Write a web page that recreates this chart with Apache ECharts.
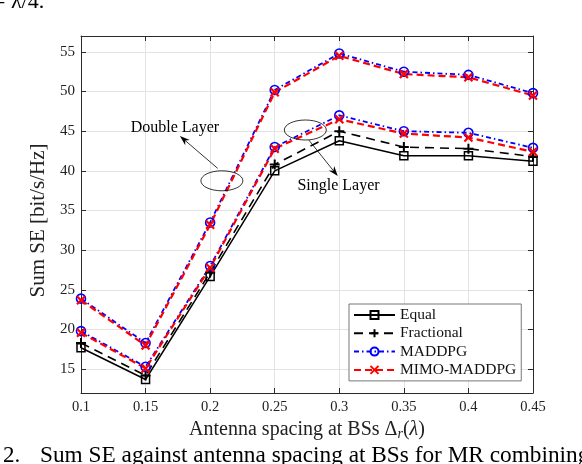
<!DOCTYPE html>
<html><head><meta charset="utf-8">
<script src="https://cdn.jsdelivr.net/npm/echarts@6/dist/echarts.min.js"></script>
<style>html,body{margin:0;padding:0;background:#fff}#c{width:582px;height:464px}</style>
</head><body><div id="c"></div>
<script>
// ---- data ----
const spacing = [0.1, 0.15, 0.2, 0.25, 0.3, 0.35, 0.4, 0.45];
const equalSingle      = [17.7, 13.7, 26.7, 40.0, 43.8, 41.9, 41.9, 41.2];
const fractionalSingle = [18.3, 14.2, 27.2, 40.8, 45.0, 43.0, 42.8, 41.8];
const maddpgSingle     = [19.8, 15.3, 28.0, 43.0, 47.0, 45.0, 44.8, 42.9];
const mimoSingle       = [19.6, 15.1, 27.8, 42.8, 46.5, 44.7, 44.2, 42.4];
const maddpgDouble     = [23.9, 18.3, 33.5, 50.2, 54.8, 52.5, 52.1, 49.8];
const mimoDouble       = [23.7, 18.0, 33.2, 49.9, 54.5, 52.2, 51.8, 49.5];
const legendNames = ['Equal', 'Fractional', 'MADDPG', 'MIMO-MADDPG'];
const xLabel = 'Antenna spacing at BSs';
const yLabel = 'Sum SE [bit/s/Hz]';
// annotation anchors in data coordinates
const doubleText = [0.1727, 45.44], doubleFrom = [0.2058, 40.32], doubleTip = [0.1766, 44.39], doubleEll = [0.2091, 38.75];
const singleText = [0.2994, 38.08], singleFrom = [0.2764, 43.89], singleTip = [0.2988, 39.34], singleEll = [0.2737, 45.15];

const FONT = 'Liberation Serif';
const pairs = arr => spacing.map((x, i) => [x, arr[i]]);
const plusPath = 'path://M5,0L5,10M0,5L10,5';
const crossPath = 'path://M0,0L10,10M10,0L0,10';

function mk(name, data, color, type, width, symbol, size, bw) {
  return {
    name, type: 'line', data: pairs(data), xAxisIndex: 0, yAxisIndex: 0,
    symbol, symbolSize: size, showSymbol: true,
    lineStyle: { color, width, type },
    itemStyle: { color: (symbol === 'rect' || symbol === 'circle') ? 'rgba(255,255,255,0)' : color, borderColor: color, borderWidth: bw },
    emphasis: { disabled: true }
  };
}

const series = [
  mk('Equal', equalSingle, '#000', 'solid', 1.5, 'rect', 8, 1.5),
  mk('Fractional', fractionalSingle, '#000', [9, 6], 1.6, plusPath, 10, 2),
  mk('MADDPG', maddpgSingle, '#0000ff', [5, 3, 1.5, 3], 1.8, 'circle', 9, 1.6),
  mk('MIMO-MADDPG', mimoSingle, '#ff0000', [7, 4], 2.2, crossPath, 8, 2.2),
  mk('MADDPG', maddpgDouble, '#0000ff', [5, 3, 1.5, 3], 1.8, 'circle', 9, 1.6),
  mk('MIMO-MADDPG', mimoDouble, '#ff0000', [7, 4], 2.2, crossPath, 8, 2.2)
];

const axisLineStyle = { lineStyle: { color: '#2a2a2a', width: 1 } };
const tickIn = { show: true, inside: true, length: 5, lineStyle: { color: '#2a2a2a' } };
const gridLine = { show: true, lineStyle: { color: '#e3e3e3', width: 1 } };

const chart = echarts.init(document.getElementById('c'), null, { renderer: 'canvas' });
chart.setOption({
  animation: false,
  backgroundColor: '#fff',
  textStyle: { fontFamily: FONT },
  grid: { left: 81, right: 49, top: 36, bottom: 71, containLabel: false },
  xAxis: [{
    type: 'value', min: 0.1, max: 0.45, interval: 0.05, position: 'bottom',
    axisLine: axisLineStyle, axisTick: tickIn, splitLine: gridLine,
    axisLabel: { fontFamily: FONT, fontSize: 14.5, color: '#222', margin: 7, formatter: v => String(+v.toFixed(2)) },
    name: xLabel + ' Δ{s|r}({i|λ})', nameLocation: 'middle', nameGap: 26,
    nameTextStyle: { fontFamily: FONT, fontSize: 20, color: '#222',
      rich: { s: { fontFamily: FONT, fontStyle: 'italic', fontSize: 14, color: '#222', verticalAlign: 'bottom', padding: [8, 0, 0, 0] },
              i: { fontFamily: FONT, fontStyle: 'italic', fontSize: 20, color: '#222' } } }
  }, {
    type: 'value', min: 0.1, max: 0.45, interval: 0.05, position: 'top',
    axisLine: axisLineStyle, axisTick: tickIn, splitLine: { show: false }, axisLabel: { show: false }
  }],
  yAxis: [{
    type: 'value', min: 12, max: 57, splitNumber: 9, minInterval: 5, maxInterval: 5, position: 'left',
    axisLine: axisLineStyle, axisTick: tickIn, splitLine: gridLine,
    axisLabel: { fontFamily: FONT, fontSize: 15, color: '#222', margin: 6, showMinLabel: false, showMaxLabel: false,
      formatter: v => (v % 5 === 0 ? String(v) : '') },
    name: yLabel, nameLocation: 'middle', nameGap: 30,
    nameTextStyle: { fontFamily: FONT, fontSize: 21, color: '#222', padding: [0, 12, 0, 0] }
  }, {
    type: 'value', min: 12, max: 57, splitNumber: 9, minInterval: 5, maxInterval: 5, position: 'right',
    axisLine: axisLineStyle, axisTick: tickIn, splitLine: { show: false }, axisLabel: { show: false }
  }],
  legend: {
    data: legendNames, orient: 'vertical', left: 349, top: 304,
    backgroundColor: '#fff', borderColor: '#777', borderWidth: 1, borderRadius: 0,
    padding: [3, 5, 3, 4], itemWidth: 41, itemHeight: 10, itemGap: 2.3,
    textStyle: { fontFamily: FONT, fontSize: 15.5, color: '#111', lineHeight: 16 },
    selectedMode: false
  },
  series
});

// ---- annotations (positioned through the axes) ----
const P = d => chart.convertToPixel({ gridIndex: 0 }, d);
function arrow(from, tip) {
  const a = P(from), b = P(tip);
  const dx = b[0] - a[0], dy = b[1] - a[1], L = Math.hypot(dx, dy);
  const ux = dx / L, uy = dy / L, hl = 10, hw = 3.5;
  const bx = b[0] - ux * hl, by = b[1] - uy * hl;
  return [
    { type: 'line', shape: { x1: a[0], y1: a[1], x2: bx + ux * 3, y2: by + uy * 3 }, style: { stroke: '#000', lineWidth: 0.8 }, z: 100 },
    { type: 'polygon', shape: { points: [[b[0], b[1]], [bx - uy * hw, by + ux * hw], [bx + ux * 3, by + uy * 3], [bx + uy * hw, by - ux * hw]] }, style: { fill: '#000' }, z: 100 }
  ];
}
function ell(c) {
  const p = P(c);
  return { type: 'ellipse', shape: { cx: p[0], cy: p[1], rx: 21, ry: 10 }, style: { fill: 'none', stroke: '#000', lineWidth: 0.8 }, z: 100 };
}
function label(t, c) {
  const p = P(c);
  return { type: 'text', x: p[0], y: p[1], style: { text: t, fontFamily: FONT, fontSize: 16, fill: '#000', align: 'center', verticalAlign: 'middle' }, z: 100 };
}
chart.setOption({
  graphic: [
    ...arrow(doubleFrom, doubleTip), ell(doubleEll), label('Double Layer', doubleText),
    ...arrow(singleFrom, singleTip), ell(singleEll), label('Single Layer', singleText),
    { type: 'text', x: -7, y: 13, style: { text: '= λ/4.', fontFamily: FONT, fontSize: 22, fill: '#000', verticalAlign: 'bottom' } },
    { type: 'text', x: 3, y: 444, style: { text: '2.', fontFamily: FONT, fontSize: 23, fill: '#000', verticalAlign: 'top' } },
    { type: 'text', x: 40, y: 444, style: { text: 'Sum SE against antenna spacing at BSs for MR combining', fontFamily: FONT, fontSize: 23.3, fill: '#000', verticalAlign: 'top' } }
  ]
});
</script></body></html>
